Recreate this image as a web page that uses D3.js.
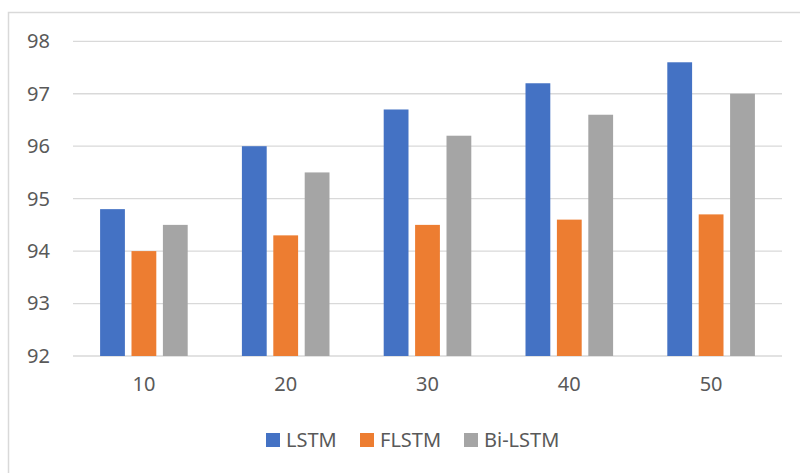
<!DOCTYPE html>
<html>
<head>
<meta charset="utf-8">
<script src="https://cdn.jsdelivr.net/npm/d3@7"></script>
<style>
  html, body { margin: 0; padding: 0; background: #fff; }
  svg { display: block; }
  text { font-family: "Noto Sans", "Open Sans", sans-serif; fill: #595959; }
</style>
</head>
<body>
<svg id="chart" width="800" height="473"></svg>
<script>
// Accuracy (%) per epoch count for three models
const categories = ["10", "20", "30", "40", "50"];
const seriesNames = ["LSTM", "FLSTM", "Bi-LSTM"];
const lstm   = [94.8, 96.0, 96.7, 97.2, 97.6];
const flstm  = [94.0, 94.3, 94.5, 94.6, 94.7];
const bilstm = [94.5, 95.5, 96.2, 96.6, 97.0];
const yTicks = [92, 93, 94, 95, 96, 97, 98];
const colors = ["#4472c4", "#ed7d31", "#a5a5a5"];

const series = [lstm, flstm, bilstm];
const svg = d3.select("#chart");

// outer chart frame (continues past right/bottom edges)
svg.append("rect")
  .attr("x", 8.5).attr("y", 12.5)
  .attr("width", 820).attr("height", 480)
  .attr("fill", "none").attr("stroke", "#d9d9d9").attr("stroke-width", 1.5);

const plotLeft = 73, plotRight = 782, plotTop = 41.3, plotBottom = 356;

const x = d3.scaleBand().domain(categories).range([plotLeft, plotRight]);
const y = d3.scaleLinear().domain([92, 98]).range([plotBottom, plotTop]);
const barW = 24.8, gap = 6.6;

// gridlines
svg.append("g").selectAll("line").data(yTicks).join("line")
  .attr("x1", plotLeft).attr("x2", plotRight)
  .attr("y1", d => y(d)).attr("y2", d => y(d))
  .attr("stroke", "#d9d9d9").attr("stroke-width", 1.3);

// y axis labels
const yAxis = d3.axisLeft(y).tickValues(yTicks).tickSize(0).tickPadding(0).tickFormat(d3.format("d"));
const yg = svg.append("g").attr("transform", "translate(50,0)").call(yAxis);
yg.select(".domain").remove();
yg.selectAll("text").attr("font-size", 20).attr("fill", "#595959")
  .style("font-family", "'Noto Sans', sans-serif");

// x axis labels
const xAxis = d3.axisBottom(x).tickSize(0).tickPadding(0);
const xg = svg.append("g").attr("transform", `translate(0,${plotBottom + 21})`).call(xAxis);
xg.select(".domain").remove();
xg.selectAll("text").attr("font-size", 20).attr("fill", "#595959")
  .style("font-family", "'Noto Sans', sans-serif");

// bars
series.forEach((vals, si) => {
  svg.append("g").selectAll("rect").data(vals).join("rect")
    .attr("x", (d, i) => x(categories[i]) + x.bandwidth() / 2 - barW / 2 + (si - 1) * (barW + gap))
    .attr("y", d => y(d))
    .attr("width", barW)
    .attr("height", d => plotBottom - y(d))
    .attr("fill", colors[si]);
});

// legend
const legendItems = [
  { name: seriesNames[0], x: 266 },
  { name: seriesNames[1], x: 360 },
  { name: seriesNames[2], x: 464 }
];
const lg = svg.append("g");
legendItems.forEach((it, i) => {
  lg.append("rect").attr("x", it.x).attr("y", 433).attr("width", 14).attr("height", 14)
    .attr("fill", colors[i]);
  lg.append("text").attr("x", it.x + 20).attr("y", 440).attr("dy", "0.35em")
    .attr("font-size", 20).text(it.name);
});
</script>
</body>
</html>
